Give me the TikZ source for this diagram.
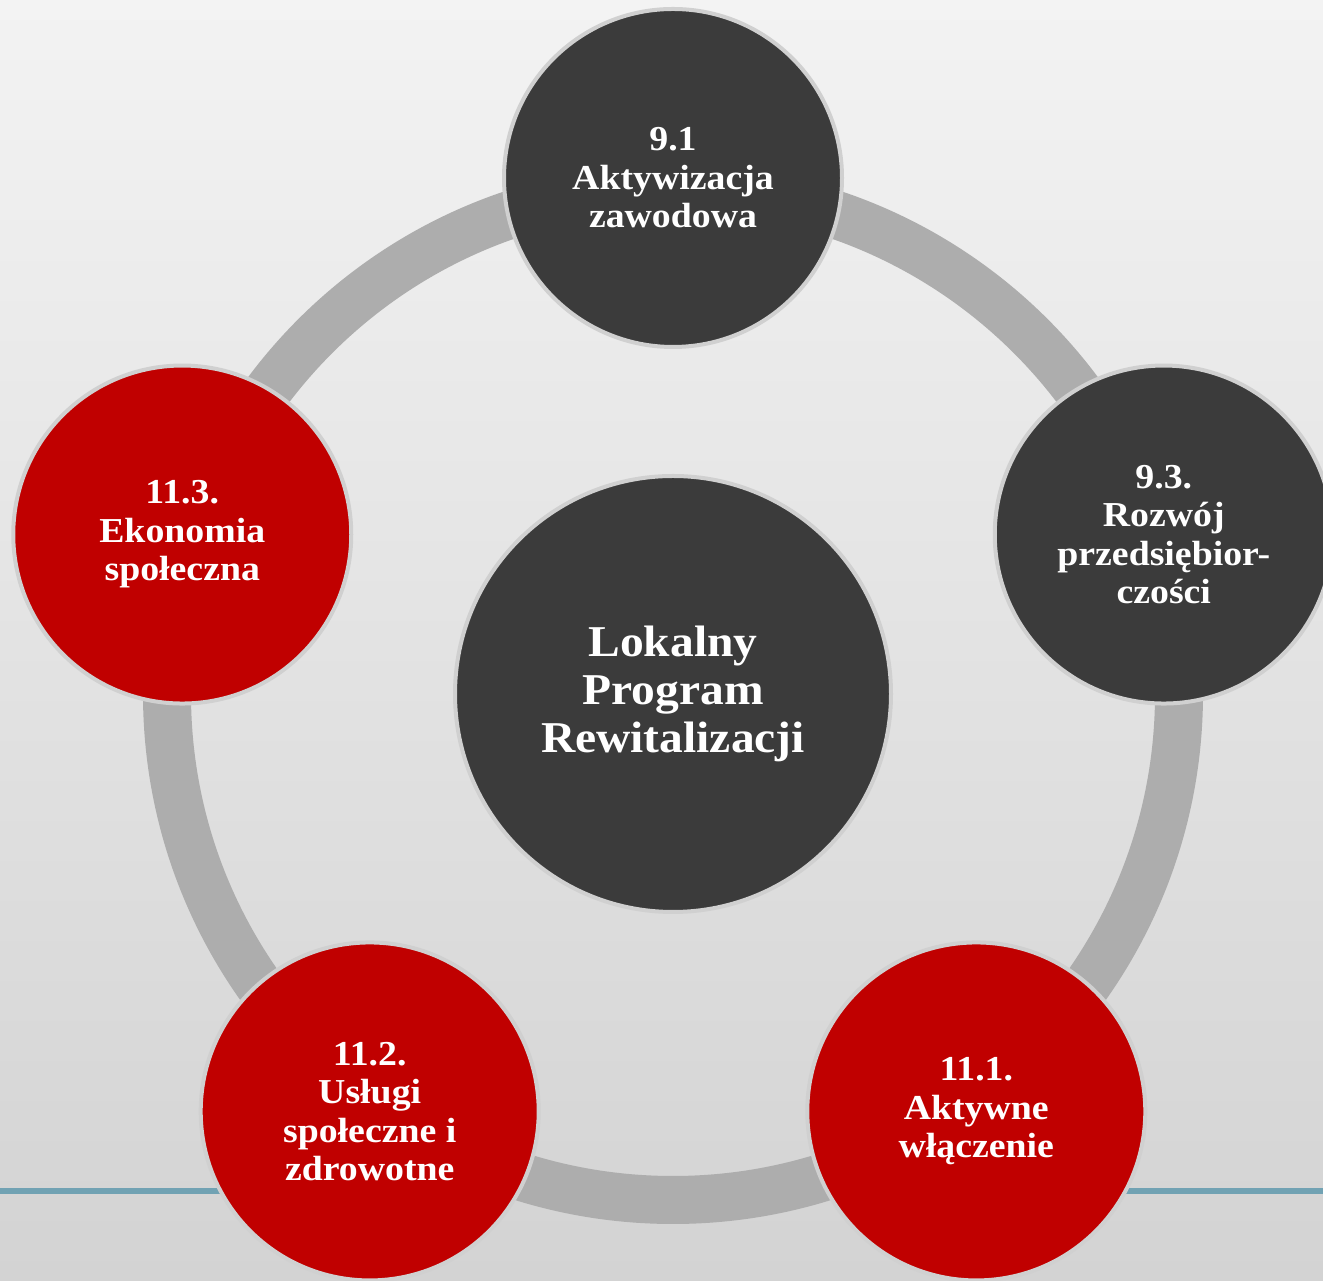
\documentclass[tikz,border=0pt]{standalone}
\usepackage{fontspec}
\setmainfont{Liberation Serif}
\newfontfamily\discfont[FakeStretch=1.08]{Liberation Serif}
\usetikzlibrary{shapes, positioning, calc, backgrounds}

\definecolor{discdark}{HTML}{3B3B3B}
\definecolor{discred}{HTML}{C00000}
\definecolor{rimgray}{HTML}{D0D0D0}
\definecolor{ringgray}{HTML}{ADADAD}
\definecolor{tealline}{HTML}{71A2B3}
\definecolor{paperlight}{HTML}{F3F3F3}
\definecolor{paperdark}{HTML}{D3D3D3}

\begin{document}
\begin{tikzpicture} [
    x=1pt, y=1pt,
    hubdisc/.style={circle, draw=rimgray, line width=4pt, fill=discdark, minimum size=436pt, inner sep=0pt, text=white, font=\discfont\bfseries\fontsize{44}{48}\selectfont, align=center},
    darkdisc/.style={circle, draw=rimgray, line width=4pt, fill=discdark, minimum size=338pt, inner sep=0pt, text=white, font=\discfont\bfseries\fontsize{35}{38.5}\selectfont, align=center},
    reddisc/.style={darkdisc, fill=discred},
    ring/.style={draw=ringgray, line width=48pt},
    footline/.style={draw=tealline, line width=6pt}
]

\useasboundingbox (0,0) rectangle (1323,1281);

% Layer 1: Define all discs first (foreground)
\node[hubdisc] (hub) at (673,587) {Lokalny\\Program\\Rewitalizacji};
\node[darkdisc] (aktyw) at ($(hub)+(90:516)$) {9.1\\Aktywizacja\\zawodowa};
\node[darkdisc] (rozwoj) at ($(hub)+(18:516)$) {9.3.\\Rozwój\\przedsiębior-\\czości};
\node[reddisc] (wlacz) at ($(hub)+(-54:516)$) {11.1.\\Aktywne\\włączenie};
\node[reddisc] (uslugi) at ($(hub)+(-126:516)$) {11.2.\\Usługi\\społeczne i\\zdrowotne};
\node[reddisc] (ekon) at ($(hub)+(162:516)$) {11.3.\\Ekonomia\\społeczna};

% Layer 2: Paper, rule and ring in background
\begin{scope}[on background layer]
    \shade[top color=paperlight, bottom color=paperdark] (0,0) rectangle (1323,1281);
    \coordinate (ruleW) at (0,90);
    \coordinate (ruleE) at (1323,90);
    \draw[footline] (ruleW) -- (ruleE);
    % Ring round the hub
    \draw[ring] (hub) circle[radius=506];
\end{scope}

\end{tikzpicture}
\end{document}
